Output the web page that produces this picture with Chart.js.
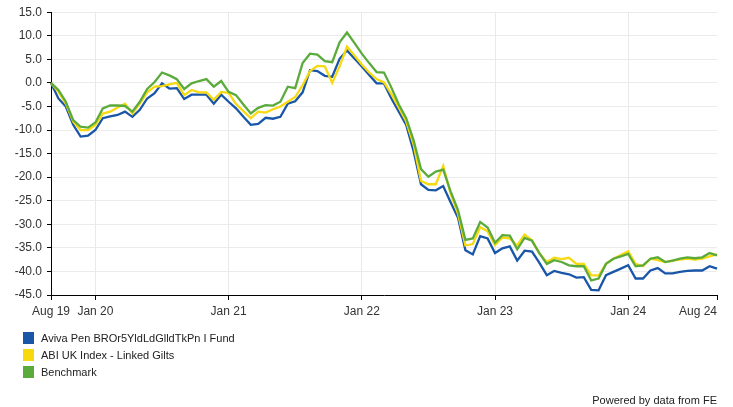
<!DOCTYPE html>
<html>
<head>
<meta charset="utf-8">
<title>Performance chart</title>
<script src="https://cdn.jsdelivr.net/npm/chart.js@4.4.0/dist/chart.umd.min.js"></script>
<style>
  body { margin: 0; background: #fff; font-family: "Liberation Sans", Arial, sans-serif; }
  #wrap { position: relative; width: 733px; height: 407px; }
  #legend { position: absolute; left: 23px; top: 330px; font-size: 11px; color: #222; }
  .item { display: flex; align-items: center; height: 16.7px; }
  .box { width: 11px; height: 12px; margin-right: 7px; }
  #credit { position: absolute; right: 16px; top: 393px; font-size: 11px; line-height: 14px; color: #222; }
</style>
</head>
<body>
<div id="wrap">
  <canvas id="perfChart"></canvas>
  <div id="legend"></div>
  <div id="credit">Powered by data from FE</div>
</div>
<script>
// tick positions (point index) and their labels
const tickIndex = [0, 6, 24, 42, 60, 78, 90];
const tickText = ['Aug 19', 'Jan 20', 'Jan 21', 'Jan 22', 'Jan 23', 'Jan 24', 'Aug 24'];

const seriesNames = ['Aviva Pen BROr5YldLdGlldTkPn I Fund', 'ABI UK Index - Linked Gilts', 'Benchmark'];
const seriesColors = ['#1a56a8', '#f7d90f', '#5bab3c'];

// cumulative % growth, roughly every 3 weeks
const fundValues = [
  0, -3.3, -5.0, -8.9, -11.4, -11.2, -10.0, -7.5, -7.1, -6.8,
  -6.1, -7.2, -5.7, -3.3, -2.2, -0.1, -1.2, -1.1, -3.4, -2.5,
  -2.5, -2.5, -4.4, -2.5, -4.0, -5.4, -7.2, -8.9, -8.7, -7.4,
  -7.6, -7.2, -4.4, -3.9, -2.0, 2.7, 2.5, 1.5, 1.3, 5.1,
  6.9, 5.2, 3.5, 1.7, -0.1, -0.1, -3.3, -6.1, -8.9, -14.5,
  -21.5, -22.7, -22.8, -21.9, -25.3, -28.6, -35.5, -36.4, -32.5, -33.0,
  -36.1, -35.1, -34.7, -37.7, -35.6, -35.8, -38.2, -40.8, -39.9, -40.3,
  -40.6, -41.3, -41.2, -43.9, -44.0, -40.8, -40.1, -39.4, -38.7, -41.5,
  -41.5, -39.8, -39.3, -40.4, -40.4, -40.1, -39.9, -39.8, -39.8, -38.9,
  -39.4
];
const sectorValues = [
  0, -1.9, -4.4, -8.2, -10.0, -10.0, -8.9, -6.5, -6.1, -5.2,
  -4.4, -6.5, -4.4, -2.0, -0.8, -0.7, -0.3, 0.0, -2.6, -1.5,
  -2.0, -2.0, -3.6, -1.9, -2.1, -4.5, -6.0, -7.5, -6.1, -6.3,
  -5.6, -5.0, -4.0, -3.0, -0.5, 2.5, 3.6, 3.5, 0.0, 3.5,
  7.7, 5.8, 3.9, 2.2, 0.8, 0.1, -2.4, -5.2, -8.2, -13.1,
  -20.8, -21.5, -21.5, -17.6, -23.5, -27.8, -34.5, -34.2, -30.6, -31.5,
  -34.4, -32.8, -33.0, -34.5, -32.2, -33.4, -36.2, -38.0, -37.1, -37.4,
  -37.1, -38.4, -38.4, -40.8, -40.9, -38.4, -37.3, -36.5, -35.7, -38.4,
  -38.9, -37.3, -37.6, -38.0, -37.7, -37.5, -37.3, -37.5, -37.3, -36.8,
  -36.4
];
const benchmarkValues = [
  0, -1.5, -4.0, -7.9, -9.3, -9.5, -8.4, -5.4, -4.8, -4.8,
  -4.9, -6.1, -4.0, -1.3, 0.2, 2.2, 1.6, 0.8, -1.3, -0.1,
  0.4, 0.8, -0.8, 0.4, -1.9, -2.6, -4.6, -6.5, -5.3, -4.7,
  -4.8, -4.0, -0.8, -1.1, 4.2, 6.2, 6.0, 4.6, 4.4, 8.6,
  10.7, 8.5, 6.2, 4.2, 2.3, 2.2, -1.0, -4.6, -7.5, -12.2,
  -18.3, -19.9, -18.8, -18.4, -23.0, -27.0, -33.3, -33.0, -29.5, -30.7,
  -33.9, -32.3, -32.4, -35.3, -32.9, -33.5, -36.1, -38.4, -37.6, -38.0,
  -38.7, -38.9, -38.9, -41.9, -41.5, -38.4, -37.3, -36.8, -36.3, -38.9,
  -38.7, -37.3, -37.0, -38.0, -37.7, -37.3, -37.0, -37.2, -37.0, -36.1,
  -36.6
];

const labels = fundValues.map((v, i) => i);
const lastIdx = labels.length - 1;

// draws the date labels under the x axis (last one kept inside the canvas)
const xLabelPlugin = {
  id: 'xLabels',
  afterDraw(chart) {
    const ctx = chart.ctx;
    const xScale = chart.scales.x;
    ctx.save();
    ctx.font = '12px "Liberation Sans", Arial, sans-serif';
    ctx.fillStyle = '#333';
    ctx.textBaseline = 'middle';
    for (let k = 0; k < tickIndex.length; k++) {
      const px = xScale.getPixelForValue(tickIndex[k]);
      ctx.textAlign = (k === tickIndex.length - 1) ? 'right' : 'center';
      ctx.fillText(tickText[k], px, chart.chartArea.bottom + 17);
    }
    ctx.restore();
  }
};

const allValues = [fundValues, sectorValues, benchmarkValues];
const datasets = allValues.map((vals, i) => ({
  label: seriesNames[i],
  data: vals,
  borderColor: seriesColors[i],
  backgroundColor: seriesColors[i],
  borderWidth: 2.3,
  pointRadius: 0,
  tension: 0,
  fill: false,
  order: 3 - i
}));

new Chart(document.getElementById('perfChart'), {
  type: 'line',
  data: { labels: labels, datasets: datasets },
  options: {
    responsive: true,
    maintainAspectRatio: false,
    animation: false,
    layout: { padding: { top: 10, right: 16, left: 0, bottom: 0 } },
    plugins: {
      legend: { display: false },
      tooltip: { enabled: false }
    },
    scales: {
      x: {
        type: 'category',
        ticks: { display: false, autoSkip: false },
        grid: {
          color: c => (tickIndex.includes(c.index) && c.index > 0 && c.index < lastIdx) ? '#e9e9e9' : 'rgba(0,0,0,0)',
          tickColor: c => tickIndex.includes(c.index) ? '#000' : 'rgba(0,0,0,0)',
          tickLength: 5,
          lineWidth: 1
        },
        border: { color: '#000', width: 1 },
        afterFit: s => { s.height = 112; }
      },
      y: {
        min: -45,
        max: 15,
        ticks: {
          stepSize: 5,
          callback: v => v.toFixed(1),
          color: '#333',
          font: { size: 12, family: '"Liberation Sans", Arial, sans-serif' },
          padding: 5
        },
        grid: { color: '#ebebeb', tickColor: '#000', tickLength: 4 },
        border: { color: '#000', width: 1 },
        afterFit: s => { s.width = 51; }
      }
    }
  },
  plugins: [xLabelPlugin]
});

// legend below the chart, one series per row
const legendBox = document.getElementById('legend');
seriesNames.forEach((name, i) => {
  const row = document.createElement('div');
  row.className = 'item';
  row.innerHTML = '<span class="box" style="background:' + seriesColors[i] + '"></span>' + name;
  legendBox.appendChild(row);
});
</script>
</body>
</html>
